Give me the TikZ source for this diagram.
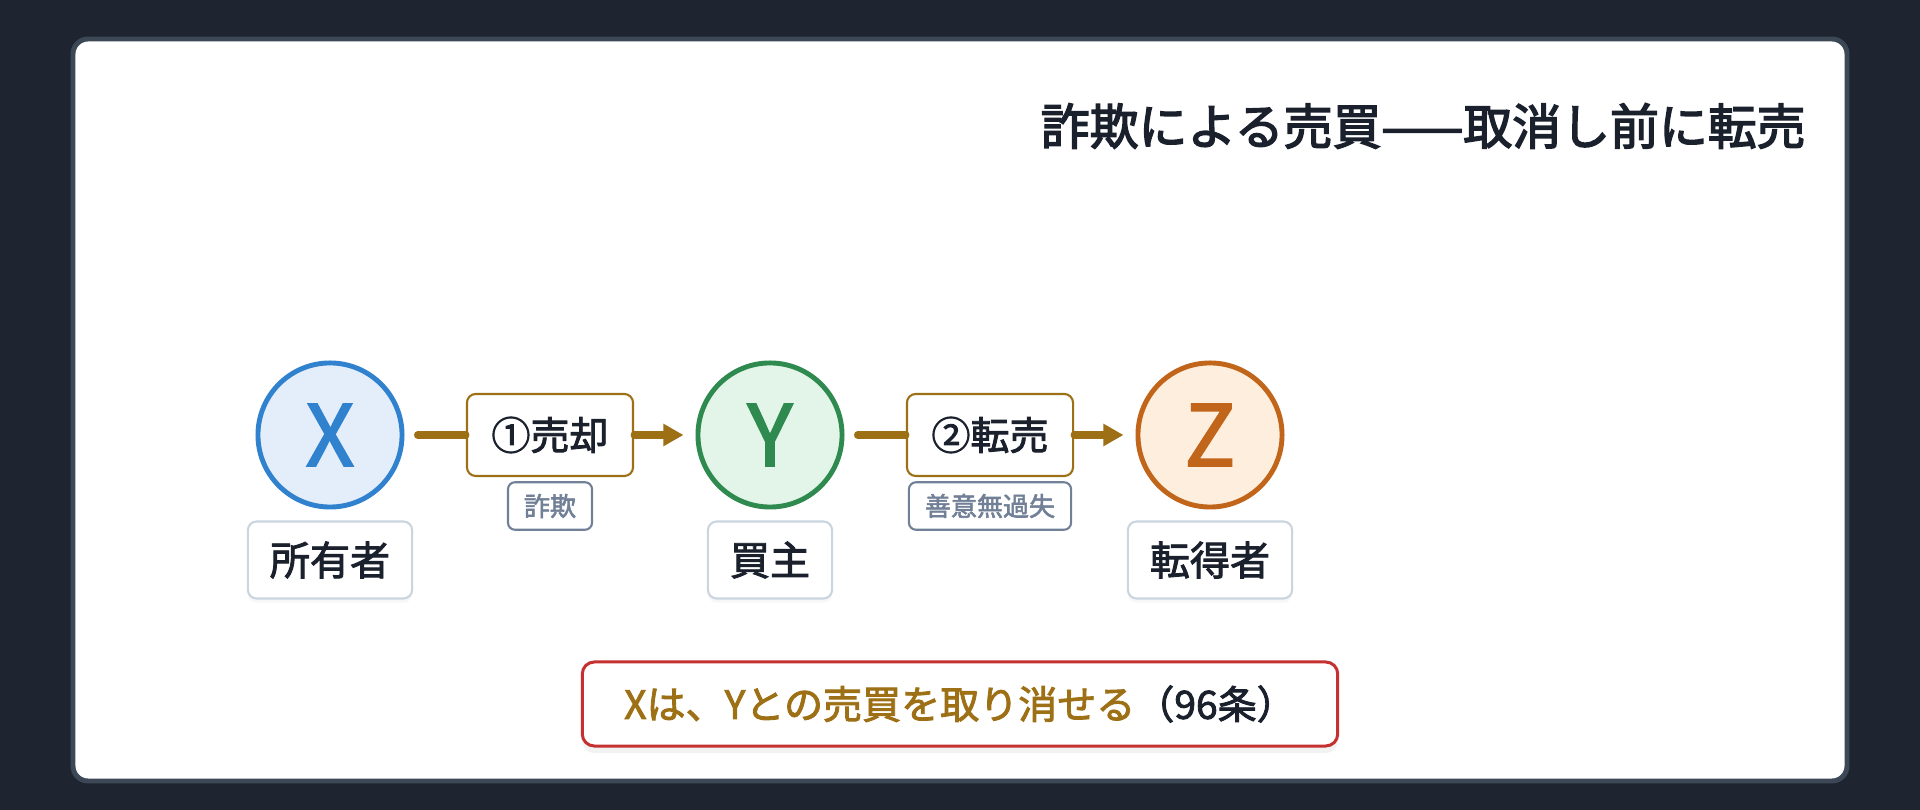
\documentclass[tikz,border=0pt]{standalone}
\usepackage{fontspec}
\setmainfont{Noto Sans CJK JP}
\newfontfamily\medfont{Noto Sans CJK JP}[FakeBold=2.2]
\newfontfamily\headfont{Noto Sans CJK JP}[FakeBold=3]
\usepackage{tikz}
\usetikzlibrary{arrows.meta,shadows}
\tikzset{>={Triangle[length=2mm,width=2.1mm]}}
\definecolor{bg}{RGB}{30,37,48}
\definecolor{cardline}{RGB}{61,72,87}
\definecolor{ink}{RGB}{26,32,44}
\definecolor{gold}{RGB}{158,112,22}
\definecolor{rolegray}{RGB}{203,213,224}
\definecolor{taggray}{RGB}{113,128,150}
\definecolor{alert}{RGB}{197,48,48}
\definecolor{xblue}{RGB}{49,130,206}
\definecolor{xfill}{RGB}{227,238,250}
\definecolor{ygreen}{RGB}{47,138,79}
\definecolor{yfill}{RGB}{227,245,232}
\definecolor{zorange}{RGB}{192,101,26}
\definecolor{zfill}{RGB}{254,238,221}

\begin{document}
\begin{tikzpicture}[x=0.01cm, y=-0.01cm,
  party/.style={circle, line width=1.4pt, minimum size=1.44cm, inner sep=0pt, font=\medfont\fontsize{24pt}{28pt}\selectfont},
  role/.style={draw=rolegray, line width=0.6pt, rounded corners=2.5pt, fill=white, text=ink, inner xsep=0.22cm, minimum height=0.77cm, font=\medfont\fontsize{11.4pt}{13pt}\selectfont, drop shadow={opacity=0.06, shadow xshift=0pt, shadow yshift=-1.2pt}},
  act/.style={draw=gold, line width=0.6pt, rounded corners=2.5pt, fill=white, text=ink, minimum width=1.66cm, minimum height=0.82cm, font=\medfont\fontsize{11.1pt}{13pt}\selectfont},
  tag/.style={draw=taggray, line width=0.6pt, rounded corners=2pt, fill=white, text=taggray, inner xsep=0.16cm, minimum height=0.47cm, font=\medfont\fontsize{7.4pt}{9pt}\selectfont},
  flow/.style={draw=gold, line width=2pt, line cap=round}]

  % background and card
  \fill[bg] (0,0) rectangle (1920,810);
  \useasboundingbox (0,0) rectangle (1920,810);
  \draw[cardline, line width=1.4pt, fill=white, rounded corners=0.15cm] (73,39) rectangle (1847,781);

  \node (title) at (1818,126) [anchor=east, text=ink, font=\headfont\fontsize{13.9pt}{16pt}\selectfont] {詐欺による売買——取消し前に転売};

  % parties
  \node (X) at (330,435) [party, draw=xblue, fill=xfill, text=xblue] {X};
  \node (Y) at (770,435) [party, draw=ygreen, fill=yfill, text=ygreen] {Y};
  \node (Z) at (1210,435) [party, draw=zorange, fill=zfill, text=zorange] {Z};

  \node (owner) at (330,560) [role] {所有者};
  \node (buyer) at (770,560) [role] {買主};
  \node (subbuyer) at (1210,560) [role] {転得者};

  % transactions
  \node (sale) at (550,435) [act] {①売却};
  \node (resale) at (990,435) [act] {②転売};
  \node (fraud) at (550,506) [tag] {詐欺};
  \node (goodfaith) at (990,506) [tag] {善意無過失};

  \draw[flow, shorten <=0.13cm] (X) -- (sale);
  \draw[flow, ->, shorten >=0.12cm] (sale) -- (Y);
  \draw[flow, shorten <=0.13cm] (Y) -- (resale);
  \draw[flow, ->, shorten >=0.12cm] (resale) -- (Z);

  \node (result) at (960,704) [draw=alert, line width=0.85pt, rounded corners=0.12cm, fill=white, minimum width=7.55cm, minimum height=0.84cm, text=ink, font=\medfont\fontsize{11.1pt}{13pt}\selectfont, drop shadow={opacity=0.1, shadow xshift=0pt, shadow yshift=-2pt}] {\textcolor{gold}{Xは、Yとの売買を取り消せる}（96条）};
\end{tikzpicture}
\end{document}
